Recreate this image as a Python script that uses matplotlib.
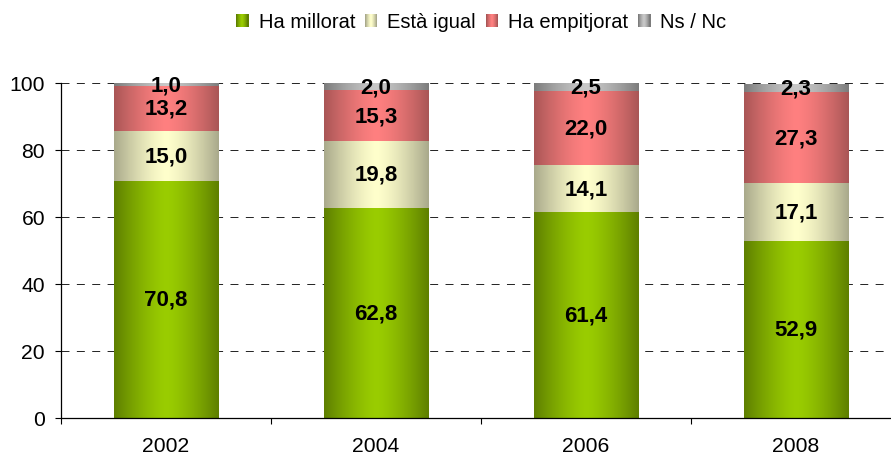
import numpy as np
import matplotlib
matplotlib.use('Agg')
from matplotlib import pyplot as plt
from matplotlib.colors import to_rgb
from matplotlib.patches import Rectangle
from matplotlib.legend_handler import HandlerBase

plt.rcParams['font.family'] = ['Liberation Sans', 'DejaVu Sans']

# data
years = ['2002', '2004', '2006', '2008']
series = ['Ha millorat', 'Està igual', 'Ha empitjorat', 'Ns / Nc']
millorat = [70.8, 62.8, 61.4, 52.9]
igual = [15.0, 19.8, 14.1, 17.1]
empitjorat = [13.2, 15.3, 22.0, 27.3]
nsnc = [1.0, 2.0, 2.5, 2.3]
values = [millorat, igual, empitjorat, nsnc]

# (edge colour, centre colour) for the horizontal gradients
grads = [('#5E7F00', '#9ACD00'),
         ('#A9A98B', '#FFFFCC'),
         ('#A95656', '#FF8080'),
         ('#7C7C7C', '#C8C8C8')]


def ramp(edge, centre, n=256):
    t = np.linspace(0, 1, n)
    f = 1 - np.abs(2 * t - 1) ** 1.4
    e, c = np.array(to_rgb(edge)), np.array(to_rgb(centre))
    return e[None, :] + (c - e)[None, :] * f[:, None]


class GradHandler(HandlerBase):
    def __init__(self, edge, centre):
        super().__init__()
        self.cols = ramp(edge, centre, 12)

    def create_artists(self, legend, orig, xd, yd, w, h, fs, trans):
        out = []
        n = len(self.cols)
        for i, c in enumerate(self.cols):
            out.append(Rectangle((xd + w * i / n - 0.2, yd), w / n + 0.4, h,
                                 facecolor=c, edgecolor='none', transform=trans))
        return out


fig = plt.figure(figsize=(8.91, 4.60), dpi=100)
ax = fig.add_axes([61 / 891, 41 / 460, 840 / 891, 335 / 460])

x = np.arange(len(years))
bottom = np.zeros(len(years))
handles = []
for vals, (edge, centre), name in zip(values, grads, series):
    bars = ax.bar(x, vals, 0.5, bottom=bottom, color='none', edgecolor='none',
                  label=name, zorder=3)
    img = ramp(edge, centre)[None, :, :]
    for b, v, b0 in zip(bars, vals, bottom):
        x0, y0 = b.get_x(), b.get_y()
        ax.imshow(img, extent=[x0, x0 + b.get_width(), y0, y0 + b.get_height()],
                  aspect='auto', interpolation='bilinear', zorder=3)
        ax.text(b.get_x() + b.get_width() / 2, b0 + v / 2,
                ('%.1f' % v).replace('.', ','), ha='center', va='center',
                fontsize=16, fontweight='bold', color='black', zorder=5)
    handles.append(bars)
    bottom += np.array(vals)

ax.set_xlim(-0.5, 3.5)
ax.set_ylim(0, 100)
ax.set_yticks(range(0, 101, 20))
ax.set_xticks(np.arange(-0.5, 3.6, 1))
ax.set_xticklabels([])
ax.set_xticks(x, minor=True)
ax.set_xticklabels(years, minor=True)
ax.tick_params(axis='x', which='major', length=4.5, width=0.8, direction='out')
ax.tick_params(axis='x', which='minor', length=0, pad=13, labelsize=15.2)
ax.tick_params(axis='y', length=4.5, width=0.8, pad=7, labelsize=15.2)
ax.yaxis.grid(True, color='#222222', linestyle=(0, (8.2, 7.6)), linewidth=0.7, zorder=1)
ax.set_axisbelow(True)
for s in ['top', 'right']:
    ax.spines[s].set_visible(False)
for s in ['left', 'bottom']:
    ax.spines[s].set_linewidth(0.9)
    ax.spines[s].set_zorder(6)

hmap = {h: GradHandler(e, c) for h, (e, c) in zip(handles, grads)}
fig.legend(handles, series, loc='center', bbox_to_anchor=(481.5 / 891, 1 - 22 / 460),
           ncol=4, frameon=False, fontsize=14.5, handlelength=0.6, handleheight=0.6,
           handletextpad=0.5, columnspacing=0.5, handler_map=hmap)

fig.savefig('out.png', dpi=100)
